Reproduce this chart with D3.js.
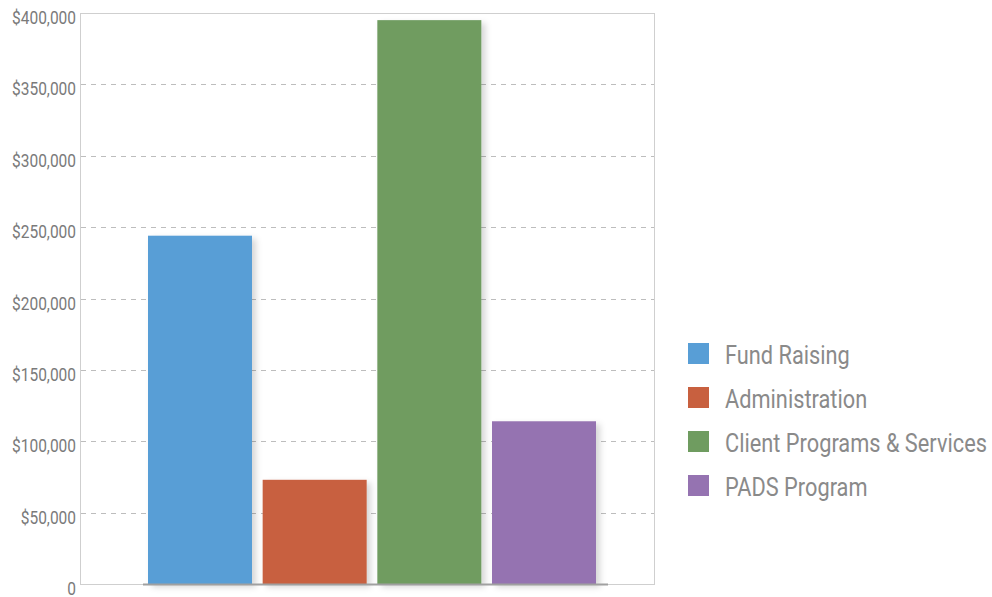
<!DOCTYPE html>
<html>
<head>
<meta charset="utf-8">
<script src="https://cdn.jsdelivr.net/npm/d3@7"></script>
<style>
  body { margin: 0; background: #fff; }
  svg { display: block; font-family: Roboto, "Liberation Sans", sans-serif; }
</style>
</head>
<body>
<div id="graf"></div>
<script>
// datos
categorias = ['Fund Raising', 'Administration', 'Client Programs & Services', 'PADS Program']
valores = [244000, 73000, 395000, 114000]
colores = ['#589ed6', '#c8603f', '#6f9c60', '#9573b1']
ticksY = [0, 50000, 100000, 150000, 200000, 250000, 300000, 350000, 400000]

anchoTotal = 992
altoTotal = 597
margen = { superior: 13, izquierdo: 81, derecho: 337, inferior: 13 }
ancho = anchoTotal - margen.izquierdo - margen.derecho
alto = altoTotal - margen.superior - margen.inferior

svg = d3.select('#graf').append('svg')
  .attr('width', anchoTotal)
  .attr('height', altoTotal)

// sombra de las barras
defs = svg.append('defs')
filtro = defs.append('filter').attr('id', 'sombra')
  .attr('x', '-10%').attr('y', '-10%').attr('width', '130%').attr('height', '130%')
filtro.append('feDropShadow')
  .attr('dx', 4).attr('dy', 3).attr('stdDeviation', 3)
  .attr('flood-color', '#000').attr('flood-opacity', 0.16)

g = svg.append('g').attr('transform', `translate(${margen.izquierdo}, ${margen.superior})`)

y = d3.scaleLinear().domain([0, 400000]).range([alto, 0])
x = d3.scaleBand().domain(categorias)
  .range([143 - margen.izquierdo, 601 - margen.izquierdo])
  .paddingInner(0.093).paddingOuter(0.0436)

// rejilla
g.selectAll('.grid').data(ticksY.filter(d => d > 0 && d < 400000)).join('line')
  .attr('x1', 0).attr('x2', ancho)
  .attr('y1', d => Math.round(y(d)) + 0.5).attr('y2', d => Math.round(y(d)) + 0.5)
  .attr('stroke', '#bdbdbd').attr('stroke-dasharray', '5,5')

// marco
g.append('rect')
  .attr('x', -0.5).attr('y', 0.5).attr('width', ancho).attr('height', alto)
  .attr('fill', 'none').attr('stroke', '#cfcfcf').attr('stroke-width', 1)

// barras
g.selectAll('.barra').data(valores).join('rect')
  .attr('x', (d, i) => x(categorias[i]))
  .attr('y', d => y(d))
  .attr('width', x.bandwidth())
  .attr('height', d => alto - y(d))
  .attr('fill', (d, i) => colores[i])
  .attr('filter', 'url(#sombra)')

// linea base
g.append('line')
  .attr('x1', 143 - margen.izquierdo).attr('x2', 608 - margen.izquierdo)
  .attr('y1', alto + 0.5).attr('y2', alto + 0.5)
  .attr('stroke', '#a0a0a0').attr('stroke-width', 2)

// etiquetas eje Y (letra condensada: se escala en X)
etiY = g.selectAll('.etiY').data(ticksY).join('text')
  .attr('text-anchor', 'end')
  .attr('font-size', 18)
  .attr('fill', '#7a7a7a')
  .text(d => d === 0 ? '0' : '$' + d3.format(',')(d))
factorY = 64 / etiY.filter(d => d === 200000).node().getComputedTextLength()
etiY.attr('transform', d => `translate(-5, ${y(d) + 11}) scale(${factorY}, 1)`)

// leyenda
leyenda = svg.append('g').attr('transform', 'translate(688, 343)')
items = leyenda.selectAll('.item').data(categorias).join('g')
  .attr('transform', (d, i) => `translate(0, ${i * 44})`)
items.append('rect').attr('width', 21).attr('height', 21).attr('fill', (d, i) => colores[i])
textos = items.append('text')
  .attr('font-size', 25)
  .attr('fill', '#8a8a8a')
  .text(d => d)
maxAncho = d3.max(textos.nodes(), n => n.getComputedTextLength())
factorL = 262 / maxAncho
textos.attr('transform', `translate(37, 20.5) scale(${factorL}, 1)`)
</script>
</body>
</html>
